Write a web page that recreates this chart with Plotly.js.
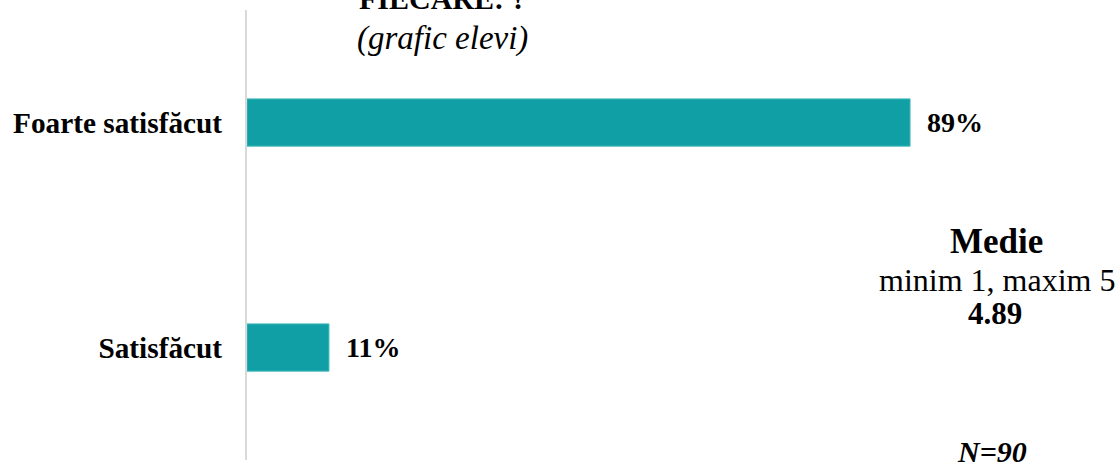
<!DOCTYPE html>
<html>
<head>
<meta charset="utf-8">
<script src="https://cdn.plot.ly/plotly-3.0.1.min.js"></script>
<style>
  html, body { margin: 0; padding: 0; background: #fff; }
  #grafic { width: 1118px; height: 463px; }
</style>
</head>
<body>
<div id="grafic"></div>
<script>
var categorii = ['Foarte satisfăcut', 'Satisfăcut'];
var procente = [89, 11];
var medie = '4.89';
var scala = 'minim 1, maxim 5';
var respondenti = 'N=90';

var serif = 'Liberation Serif, Times New Roman, serif';

var trace = {
  type: 'bar',
  orientation: 'h',
  y: categorii,
  x: procente,
  marker: {color: '#109fa4', line: {color: '#45b9bc', width: 1}},
  texttemplate: '\u00a0\u00a0%{x}%',
  textposition: 'outside',
  textfont: {family: serif, size: 28, weight: 'bold', color: '#000'},
  cliponaxis: false,
  hoverinfo: 'none'
};

var layout = {
  width: 1118,
  height: 463,
  margin: {l: 247, r: 126, t: 10, b: 3},
  showlegend: false,
  bargap: 0.79,
  xaxis: {
    range: [0, 100],
    visible: false,
    fixedrange: true
  },
  yaxis: {
    autorange: 'reversed',
    showline: true,
    linecolor: '#d9d9d9',
    linewidth: 2,
    ticks: '',
    ticklabelstandoff: 17,
    tickfont: {family: serif, size: 29.3, weight: 'bold', color: '#000'},
    showgrid: false,
    zeroline: false,
    fixedrange: true
  },
  annotations: [
    // titlul, taiat sus
    {text: '<b>FIECARE: ?</b>', xref: 'paper', yref: 'paper', x: 0.263, y: 1,
     xanchor: 'center', yanchor: 'middle', yshift: 12, showarrow: false,
     font: {family: serif, size: 30, color: '#000'}},
    {text: '<i>(grafic elevi)</i>', xref: 'paper', yref: 'paper', x: 0.263, y: 1,
     xanchor: 'center', yanchor: 'middle', yshift: -28, showarrow: false,
     font: {family: serif, size: 33, color: '#000'}},
    // media
    {text: '<b>Medie</b>', xref: 'paper', yref: 'paper', x: 1.0, y: 0.485,
     xanchor: 'center', yanchor: 'middle', xshift: 4, showarrow: false,
     font: {family: serif, size: 35, color: '#000'}},
    {text: scala, xref: 'paper', yref: 'paper', x: 1.0, y: 0.4,
     xanchor: 'center', yanchor: 'middle', xshift: 5, showarrow: false,
     font: {family: serif, size: 32, color: '#000'}},
    {text: '<b>' + medie + '</b>', xref: 'paper', yref: 'paper', x: 1.0, y: 0.326,
     xanchor: 'center', yanchor: 'middle', xshift: 3, showarrow: false,
     font: {family: serif, size: 31, color: '#000'}},
    {text: '<b><i>' + respondenti + '</i></b>', xref: 'paper', yref: 'paper', x: 1.0, y: 0.02,
     xanchor: 'center', yanchor: 'middle', xshift: 0, showarrow: false,
     font: {family: serif, size: 30, color: '#000'}}
  ],
  plot_bgcolor: '#fff',
  paper_bgcolor: '#fff'
};

Plotly.newPlot('grafic', [trace], layout, {displayModeBar: false, staticPlot: true});
</script>
</body>
</html>
